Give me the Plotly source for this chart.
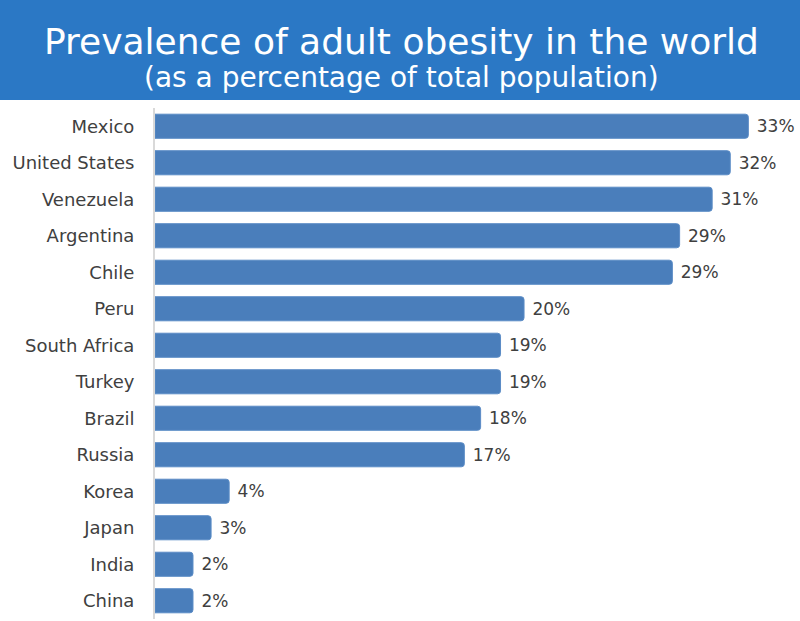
import plotly.graph_objects as go

countries = ["Mexico", "United States", "Venezuela", "Argentina", "Chile", "Peru",
             "South Africa", "Turkey", "Brazil", "Russia", "Korea", "Japan", "India", "China"]
obesity_pct = [32.8, 31.8, 30.8, 29.0, 28.6, 20.4, 19.1, 19.1, 18.0, 17.1, 4.1, 3.1, 2.1, 2.1]

title_line1 = "Prevalence of adult obesity in the world"
title_line2 = "(as a percentage of total population)"

W, H = 800, 621
L, R, T, B = 155, 3, 108, 2
pw, ph = W - L - R, H - T - B
FONT = "DejaVu Sans"

def px_x(q):
    return (q - L) / pw

def px_y(p):
    return (H - B - p) / ph

fig = go.Figure(go.Bar(
    x=obesity_pct, y=countries, orientation="h",
    marker=dict(color="#4a7ebb", line=dict(color="#5b8cc6", width=1), cornerradius=3),
    texttemplate=" %{x:.0f}%", textposition="outside", cliponaxis=False,
    textfont=dict(family=FONT, size=17, color="#404040"),
    width=0.66,
))

fig.update_layout(
    width=W, height=H,
    margin=dict(l=L, r=R, t=T, b=B),
    paper_bgcolor="white", plot_bgcolor="white",
    showlegend=False,
    xaxis=dict(range=[0, pw / 18.09], visible=False, fixedrange=True),
    yaxis=dict(categoryorder="array", categoryarray=countries[::-1],
               showline=True, linecolor="#d9d9d9", linewidth=2,
               ticks="", ticklabelstandoff=15,
               tickfont=dict(family=FONT, size=18, color="#404040"),
               showgrid=False, fixedrange=True),
    shapes=[dict(type="rect", xref="paper", yref="paper",
                 x0=px_x(0), x1=px_x(W), y0=px_y(100), y1=px_y(0),
                 fillcolor="#2b78c5", line=dict(width=0), layer="below")],
    annotations=[
        dict(text=title_line1, xref="paper", yref="paper", x=px_x(401), y=px_y(42),
             xanchor="center", yanchor="middle", showarrow=False,
             font=dict(family=FONT, size=36, color="white")),
        dict(text=title_line2, xref="paper", yref="paper", x=px_x(401), y=px_y(78),
             xanchor="center", yanchor="middle", showarrow=False,
             font=dict(family=FONT, size=28, color="white")),
    ],
)

fig.write_html("out.html")
